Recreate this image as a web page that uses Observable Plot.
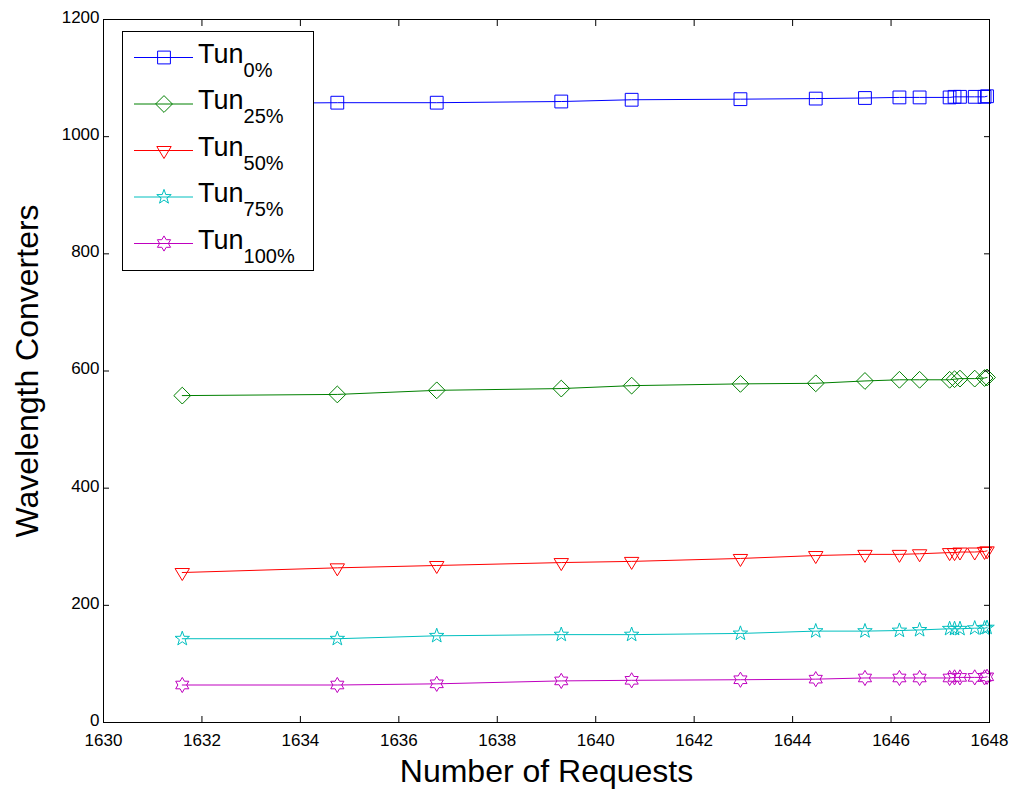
<!DOCTYPE html>
<html><head><meta charset="utf-8">
<script src="https://cdn.jsdelivr.net/npm/d3@7"></script>
<script src="https://cdn.jsdelivr.net/npm/@observablehq/plot@0.6"></script>
<style>
body{margin:0;background:#fff;font-family:"Liberation Sans",Arial,Helvetica,sans-serif;}
#wrap{position:relative;width:1028px;height:792px;}
#legend{position:absolute;left:122px;top:31px;}
</style></head><body><div id="wrap"></div>
<script>
// ---- data ----
const requests = [1631.6, 1634.75, 1636.77, 1639.3, 1640.73, 1642.94, 1644.47, 1645.47, 1646.17, 1646.58, 1647.19, 1647.29, 1647.4, 1647.7, 1647.9, 1647.95];
const tun0   = [1056, 1058, 1058, 1060, 1063, 1064, 1065, 1066, 1067, 1067, 1067, 1068, 1068, 1068, 1068, 1069];
const tun25  = [558, 560, 567, 570, 575, 578, 579, 583, 585, 585, 585, 586, 587, 587, 588, 589];
const tun50  = [256, 264, 268, 273, 275, 280, 285, 287, 287, 288, 290, 290, 291, 291, 292, 293];
const tun75  = [143, 143, 148, 150, 150, 152, 156, 156, 157, 158, 160, 160, 160, 161, 161, 162];
const tun100 = [64, 64, 66, 71, 72, 73, 74, 76, 76, 76, 76, 77, 77, 77, 77, 78];
const seriesNames = ["0%", "25%", "50%", "75%", "100%"];
const seriesValues = [tun0, tun25, tun50, tun75, tun100];
const seriesColors = ["#0000ff", "#008000", "#ff0000", "#00bfbf", "#bf00bf"];
const xTicks = [1630, 1632, 1634, 1636, 1638, 1640, 1642, 1644, 1646, 1648];
const yTicks = [0, 200, 400, 600, 800, 1000, 1200];

// ---- marker symbols (MATLAB style) ----
function poly(ctx, pts) { pts.forEach(([x, y], i) => i ? ctx.lineTo(x, y) : ctx.moveTo(x, y)); ctx.closePath(); }
function starPts(n, R, r, rot) {
  const pts = [];
  for (let i = 0; i < 2 * n; i++) {
    const a = rot + i * Math.PI / n, rad = i % 2 ? r : R;
    pts.push([rad * Math.sin(a), -rad * Math.cos(a)]);
  }
  return pts;
}
const symSquare = {draw(ctx, size) { const R = Math.sqrt(size / Math.PI), h = R * 0.8; poly(ctx, [[-h, -h], [h, -h], [h, h], [-h, h]]); }};
const symDiamond = {draw(ctx, size) { const R = Math.sqrt(size / Math.PI) * 1.05; poly(ctx, [[0, -R], [R, 0], [0, R], [-R, 0]]); }};
const symTriDown = {draw(ctx, size) { const R = Math.sqrt(size / Math.PI); poly(ctx, [[-0.9 * R, -0.5 * R], [0.9 * R, -0.5 * R], [0, R]]); }};
const symPenta = {draw(ctx, size) { const R = Math.sqrt(size / Math.PI) * 0.95; poly(ctx, starPts(5, R, R * 0.4, 0)); }};
const symHexa = {draw(ctx, size) { const R = Math.sqrt(size / Math.PI) * 0.95; poly(ctx, starPts(6, R, R / Math.sqrt(3), 0)); }};
const seriesSymbols = [symSquare, symDiamond, symTriDown, symPenta, symHexa];

const rows = [];
seriesValues.forEach((vals, s) => vals.forEach((v, i) => rows.push({series: s, x: requests[i], y: v})));

const marks = [];
seriesValues.forEach((vals, s) => {
  const d = rows.filter(r => r.series === s);
  marks.push(Plot.line(d, {x: "x", y: "y", stroke: seriesColors[s], strokeWidth: 1}));
  marks.push(Plot.dot(d, {x: "x", y: "y", r: 8, symbol: seriesSymbols[s], stroke: seriesColors[s], fill: "none", strokeWidth: 1}));
});

const font = "Liberation Sans, Arial, Helvetica, sans-serif";
const chart = Plot.plot({
  width: 1028, height: 792,
  marginLeft: 103, marginRight: 39, marginTop: 19, marginBottom: 70,
  style: {fontFamily: font, background: "#fff", color: "#000"},
  x: {domain: [1630, 1648], label: null},
  y: {domain: [0, 1200], label: null},
  marks: [
    ...marks,
    Plot.frame({stroke: "#000", strokeWidth: 1}),
    Plot.axisX({anchor: "bottom", ticks: xTicks, tickSize: -6, fill: "none", stroke: "#000", label: null}),
    Plot.axisX({anchor: "top", ticks: xTicks, tickSize: -6, fill: "none", stroke: "#000", label: null}),
    Plot.axisY({anchor: "left", ticks: yTicks, tickSize: -6, fill: "none", stroke: "#000", label: null}),
    Plot.axisY({anchor: "right", ticks: yTicks, tickSize: -6, fill: "none", stroke: "#000", label: null}),
    Plot.axisX({anchor: "bottom", ticks: xTicks, tickSize: 0, tickPadding: 11, fontSize: 17, tickFormat: d3.format("d"), label: null, fill: "#000"}),
    Plot.axisY({anchor: "left", ticks: yTicks, tickSize: 0, tickPadding: 4, dy: -2, fontSize: 17, tickFormat: d3.format("d"), label: null, fill: "#000"}),
    Plot.text(["Number of Requests"], {frameAnchor: "bottom", dy: 59, fontSize: 32, fill: "#000", textAnchor: "middle", text: d => d}),
    Plot.text(["Wavelength Converters"], {frameAnchor: "left", dx: -76, rotate: -90, fontSize: 32, fill: "#000", textAnchor: "middle", lineAnchor: "middle", text: d => d})
  ]
});
document.getElementById("wrap").appendChild(chart);

// ---- legend (inside the axes, top-left) ----
const lw = 191, lh = 239;
const leg = d3.select("#wrap").append("svg").attr("id", "legend").attr("width", lw + 1).attr("height", lh + 1)
  .style("font-family", font);
leg.append("rect").attr("x", 0.5).attr("y", 0.5).attr("width", lw).attr("height", lh).attr("fill", "#fff").attr("stroke", "#000");
seriesNames.forEach((name, s) => {
  const cy = 26.5 + s * 46.5;
  const g = leg.append("g");
  g.append("line").attr("x1", 12).attr("x2", 71).attr("y1", cy).attr("y2", cy).attr("stroke", seriesColors[s]).attr("stroke-width", 1);
  g.append("path").attr("d", d3.symbol(seriesSymbols[s], Math.PI * 64)()).attr("transform", `translate(42,${cy})`)
    .attr("fill", "none").attr("stroke", seriesColors[s]);
  const t = g.append("text").attr("x", 76).attr("y", cy + 5).attr("font-size", 27).attr("fill", "#000");
  t.append("tspan").text("Tun");
  t.append("tspan").attr("dy", 14).attr("font-size", 20).text(name);
});
</script></body></html>
